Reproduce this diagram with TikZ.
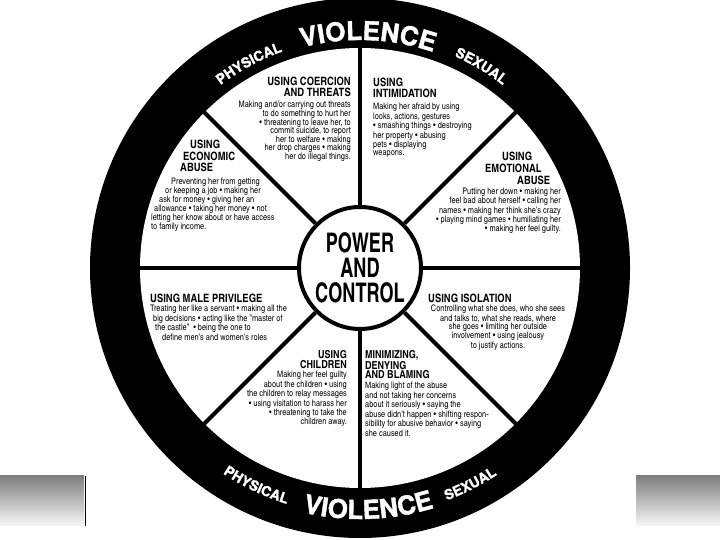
\documentclass[tikz,border=0pt]{standalone}
\usepackage{fontspec}
\setmainfont{texgyreheroscn}[Extension=.otf, UprightFont=*-regular, BoldFont=*-bold]
\newfontfamily\hubfont{texgyreheroscn-bold.otf}[FakeStretch=0.82]
\newfontfamily\ringfont{TeX Gyre Heros}[BoldFeatures={FakeBold=1.5}]
\usetikzlibrary{decorations.text}

\begin{document}
\begin{tikzpicture}[x=1pt,y=1pt,
    head/.style={inner sep=0pt, font=\bfseries\fontsize{11.5}{11}\selectfont},
    body/.style={inner sep=0pt, font=\fontsize{9}{#1}\selectfont},
    spoke/.style={line width=4pt},
    ringword/.style 2 args={decorate, decoration={text along path, text align=center,
        text color=white, text={|\ringfont\bfseries\fontsize{#1}{#1}\selectfont|#2}}}]

  \useasboundingbox[fill=white] (0,0) rectangle (720,540);

  % grey bars at the foot
  \shade[top color=black!50, bottom color=black!3] (0,14) rectangle (84,64);
  \shade[top color=black!50, bottom color=black!3] (636,14) rectangle (720,64);
  \draw[line width=0.8pt] (85,14) -- (85,64);

  % the wheel
  \coordinate (c) at (360,272);
  \fill[black] (c) circle[radius=270pt];
  \fill[white] (c) circle[radius=220pt];

  \node[circle, draw, line width=4pt, fill=white, minimum size=122pt, inner sep=0pt,
        align=center, font=\hubfont\fontsize{27}{25}\selectfont]
        (hub) at (c) {POWER\\AND\\CONTROL};
  \foreach \a in {0,45,...,315}
    \draw[spoke] (hub.\a) -- ([shift={(\a:222pt)}]c);

  % words on the rim
  \path[ringword={26}{VIOLENCE}]
    ([shift={(128:228pt)}]c) arc[start angle=128, end angle=48, radius=228pt];
  \path[ringword={14}{PHYSICAL}]
    ([shift={(140:230pt)}]c) arc[start angle=140, end angle=97, radius=230pt];
  \path[ringword={14}{SEXUAL}]
    ([shift={(78:232pt)}]c) arc[start angle=78, end angle=40, radius=232pt];
  \path[ringword={26}{VIOLENCE}]
    ([shift={(232:251pt)}]c) arc[start angle=232, end angle=312, radius=251pt];
  \path[ringword={14}{PHYSICAL}]
    ([shift={(224:247pt)}]c) arc[start angle=224, end angle=265, radius=247pt];
  \path[ringword={14}{SEXUAL}]
    ([shift={(277:248pt)}]c) arc[start angle=277, end angle=317, radius=248pt];

  % coercion
  \node[head, anchor=north east, align=right] (coerhead) at (351,463)
    {USING COERCION\\AND THREATS};
  \node[body=8.6, anchor=north east, align=right] (coerbody) at (351,439)
    {Making and/or carrying out threats\\
     to do something to hurt her\\
     • threatening to leave her, to\\
     commit suicide, to report\\
     her to welfare • making\\
     her drop charges • making\\
     her do illegal things.};

  % intimidation
  \node[head, anchor=north west, align=left] (intimhead) at (373,462)
    {USING\\INTIMIDATION};
  \node[body=8, anchor=north west, align=left] (intimbody) at (373,437)
    {Making her afraid by using\\
     looks, actions, gestures\\
     • smashing things • destroying\\
     her property • abusing\\
     pets • displaying\\
     weapons.};

  % emotional abuse
  \node[head, anchor=north west, align=left, font=\bfseries\fontsize{11.5}{12}\selectfont]
    (emohead) at (485,388)
    {\hspace*{17pt}USING\\EMOTIONAL\\\hspace*{32pt}ABUSE};
  \node[body=9.2, anchor=north east, align=right] (emobody) at (561,352)
    {Putting her down • making her\\
     feel bad about herself • calling her\\
     names • making her think she's crazy\\
     • playing mind games • humiliating her\\
     • making her feel guilty.};

  % economic abuse
  \node[head, anchor=north west, align=left, font=\bfseries\fontsize{11.5}{11.5}\selectfont]
    (econhead) at (180,400)
    {\hspace*{10pt}USING\\\hspace*{3pt}ECONOMIC\\ABUSE};
  \node[body=9, anchor=north west, align=left] (econbody) at (151,362)
    {\hspace*{20pt}Preventing her from getting\\
     \hspace*{14pt}or keeping a job • making her\\
     \hspace*{8pt}ask for money • giving her an\\
     \hspace*{3pt}allowance • taking her money • not\\
     letting her know about or have access\\
     to family income.};

  % male privilege
  \node[head, anchor=north west] (malehead) at (150,246) {USING MALE PRIVILEGE};
  \node[body=8, anchor=north west, align=left] (malebody) at (150,235)
    {Treating her like a servant • making all the\\
     \hspace*{3pt}big decisions • acting like the "master of\\
     \hspace*{5pt}the castle" \ • being the one to\\
     \hspace*{12pt}define men's and women's roles};

  % isolation
  \node[head, anchor=north west] (isohead) at (428,246) {USING ISOLATION};
  \node[body=7.8, anchor=north, align=center] (isobody) at (498,235)
    {Controlling what she does, who she sees\\
     and talks to, what she reads, where\\
     she goes • limiting her outside\\
     involvement • using jealousy\\
     to justify actions.};

  % children
  \node[head, anchor=north east, align=right, font=\bfseries\fontsize{11}{10}\selectfont]
    (childhead) at (347,190) {USING\\CHILDREN};
  \node[body=7.8, anchor=north east, align=right] (childbody) at (347,169)
    {Making her feel guilty\\
     about the children • using\\
     the children to relay messages\\
     • using visitation to harass her\\
     • threatening to take the\\
     children away.};

  % minimizing
  \node[head, anchor=north west, align=left, font=\bfseries\fontsize{11}{9.5}\selectfont]
    (minhead) at (365,190) {MINIMIZING,\\DENYING\\AND BLAMING};
  \node[body=7.5, anchor=north west, align=left] (minbody) at (365,158)
    {Making light of the abuse\\
     and not taking her concerns\\
     about it seriously • saying the\\
     abuse didn't happen • shifting respon-\\
     sibility for abusive behavior • saying\\
     she caused it.};
\end{tikzpicture}
\end{document}
